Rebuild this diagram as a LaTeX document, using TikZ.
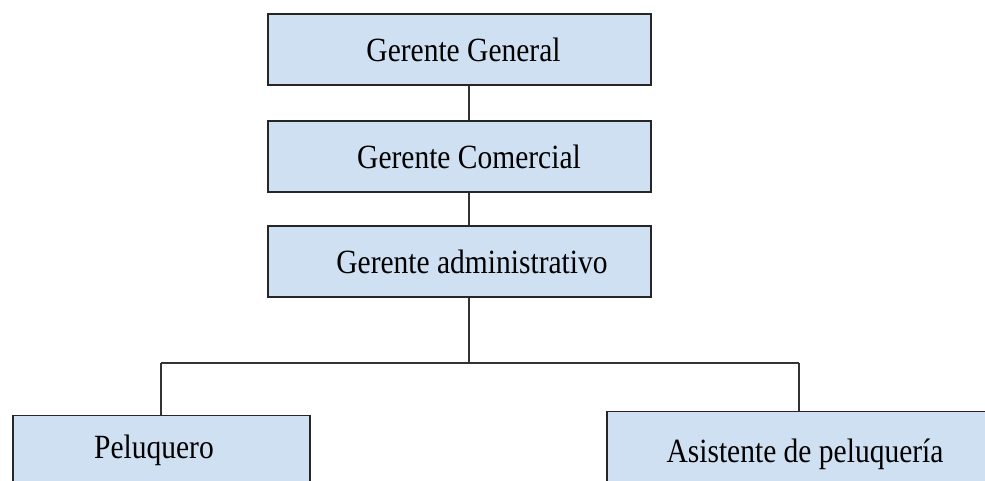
\documentclass[tikz,border=0pt]{standalone}
\usepackage{fontspec}
\setmainfont{Liberation Serif}
\definecolor{boxfill}{RGB}{207,224,242}
\begin{document}
\begin{tikzpicture}[x=1pt,y=-1pt,
  orgbox/.style={draw=black!85, line width=1.4pt, fill=boxfill,
    font=\fontsize{29.5}{32}\selectfont, inner sep=0pt},
  topbox/.style={orgbox, minimum width=383pt, minimum height=71pt},
  link/.style={draw=black!80, line width=1.3pt}]
\useasboundingbox (0,0) rectangle (985,481);
\clip (0,0) rectangle (985,481);
\node[topbox] (gg) at (459.5,49.5) {\hspace*{8pt}\scalebox{1}[1.15]{Gerente General}};
\node[topbox] (gc) at (459.5,156.5) {\hspace*{19pt}\scalebox{1}[1.15]{Gerente Comercial}};
\node[topbox] (ga) at (459.5,261.5) {\hspace*{25pt}\scalebox{1}[1.15]{Gerente administrativo}};
\node[orgbox, anchor=north, minimum width=297pt, text height=21pt, text depth=7pt, inner ysep=22pt]
  (pel) at (161.5,415) {\scalebox{1}[1.15]{Peluquero}\hspace*{15pt}};
\node[orgbox, anchor=north, minimum width=396pt, text height=21pt, text depth=7pt, inner ysep=30pt]
  (asi) at (805,411) {\scalebox{1}[1.15]{Asistente de peluquería}};
\coordinate (busc) at (469,363);
\coordinate (busl) at (161,363);
\coordinate (busr) at (799,363);
\draw[link] (busc |- gg.south) -- (busc |- gc.north);
\draw[link] (busc |- gc.south) -- (busc |- ga.north);
\draw[link] (busc |- ga.south) -- (busc);
\draw[link] (busl) -- (busr);
\draw[link] (busl) -- (busl |- pel.north);
\draw[link] (busr) -- (busr |- asi.north);
\end{tikzpicture}
\end{document}
